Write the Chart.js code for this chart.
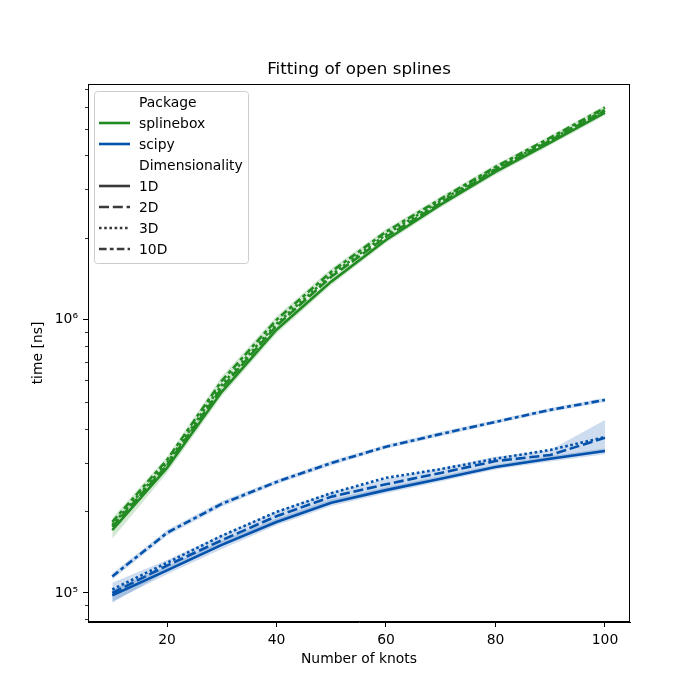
<!DOCTYPE html>
<html>
<head>
<meta charset="utf-8">
<script src="https://cdn.jsdelivr.net/npm/chart.js@4"></script>
<style>
    body { margin: 0; background: #fff; }
    #wrap { width: 700px; height: 700px; }
</style>
</head>
<body>
<div id="wrap"><canvas id="chart" width="700" height="700"></canvas></div>
<script>
// 数据
const knots = [10, 20, 30, 40, 50, 60, 70, 80, 90, 100];

const sb1D  = [1.70e5, 2.87e5, 5.45e5, 9.20e5, 1.38e6, 1.96e6, 2.64e6, 3.48e6, 4.45e6, 5.73e6];
const sb2D  = [1.745e5, 2.94e5, 5.63e5, 9.51e5, 1.437e6, 2.01e6, 2.68e6, 3.54e6, 4.53e6, 5.83e6];
const sb3D  = [1.775e5, 2.99e5, 5.78e5, 9.67e5, 1.46e6, 2.05e6, 2.73e6, 3.57e6, 4.56e6, 5.88e6];
const sb10D = [1.82e5, 3.07e5, 5.98e5, 1.00e6, 1.50e6, 2.10e6, 2.77e6, 3.63e6, 4.64e6, 5.98e6];

const sp1D  = [0.98e5, 1.21e5, 1.50e5, 1.82e5, 2.14e5, 2.38e5, 2.62e5, 2.89e5, 3.10e5, 3.31e5];
const sp2D  = [1.00e5, 1.26e5, 1.56e5, 1.91e5, 2.25e5, 2.50e5, 2.75e5, 3.04e5, 3.20e5, 3.70e5];
const sp3D  = [1.03e5, 1.29e5, 1.62e5, 1.98e5, 2.32e5, 2.64e5, 2.84e5, 3.10e5, 3.34e5, 3.72e5];
const sp10D = [1.15e5, 1.66e5, 2.12e5, 2.55e5, 2.99e5, 3.43e5, 3.82e5, 4.23e5, 4.68e5, 5.09e5];

// 置信区间
const sb1DLo  = [1.58e5, 2.75e5, 5.25e5, 8.90e5, 1.34e6, 1.91e6, 2.58e6, 3.40e6, 4.36e6, 5.60e6];
const sb1DHi  = [1.80e5, 2.98e5, 5.65e5, 9.50e5, 1.42e6, 2.01e6, 2.70e6, 3.56e6, 4.54e6, 5.86e6];
const sb10DLo = [1.74e5, 2.95e5, 5.60e5, 9.50e5, 1.45e6, 2.04e6, 2.71e6, 3.56e6, 4.56e6, 5.86e6];
const sb10DHi = [1.88e5, 3.15e5, 6.20e5, 1.03e6, 1.54e6, 2.15e6, 2.83e6, 3.70e6, 4.72e6, 6.10e6];
const sp1DLo  = [0.93e5, 1.17e5, 1.45e5, 1.77e5, 2.08e5, 2.32e5, 2.56e5, 2.83e5, 3.03e5, 3.22e5];
const sp1DHi  = [1.03e5, 1.25e5, 1.55e5, 1.87e5, 2.20e5, 2.44e5, 2.68e5, 2.95e5, 3.17e5, 3.38e5];
const sp2DLo  = [0.92e5, 1.20e5, 1.49e5, 1.83e5, 2.16e5, 2.40e5, 2.65e5, 2.93e5, 3.10e5, 3.28e5];
const sp2DHi  = [1.09e5, 1.32e5, 1.63e5, 1.99e5, 2.34e5, 2.62e5, 2.86e5, 3.15e5, 3.34e5, 4.30e5];
const sp10DLo = [1.12e5, 1.62e5, 2.07e5, 2.50e5, 2.93e5, 3.37e5, 3.75e5, 4.16e5, 4.60e5, 5.00e5];
const sp10DHi = [1.18e5, 1.70e5, 2.17e5, 2.60e5, 3.05e5, 3.49e5, 3.89e5, 4.30e5, 4.76e5, 5.18e5];

// 刻度
const xTicks = [20, 40, 60, 80, 100];
const yTicks = [1e5, 1e6];
const yMinorTicks = [8e4, 9e4, 2e5, 3e5, 4e5, 5e5, 6e5, 7e5, 8e5, 9e5, 2e6, 3e6, 4e6, 5e6, 6e6, 7e6];
const yLabels = { 100000: '10\u2075', 1000000: '10\u2076' };

const TITLE = 'Fitting of open splines';
const GREEN = '#228b22';
const BLUE = '#0452ab';
const DARK = '#3a3a3a';
const LW = 2.6;

const dashes = {
    '1D': [],
    '2D': [10, 3.8],
    '3D': [2.6, 2.6],
    '10D': [7.6, 3.2, 3.8, 3.2]
};

function lineSet(data, color, dim) {
    return {
        data: data,
        borderColor: color,
        borderWidth: LW,
        borderDash: dashes[dim],
        pointRadius: 0,
        tension: 0,
        fill: false
    };
}

function bandSets(lo, hi, fillColor, loIndex) {
    return [
        { data: lo, borderWidth: 0, pointRadius: 0, fill: false, borderColor: 'rgba(0,0,0,0)' },
        { data: hi, borderWidth: 0, pointRadius: 0, borderColor: 'rgba(0,0,0,0)',
          backgroundColor: fillColor, fill: { target: loIndex } }
    ];
}

const GFILL = 'rgba(34,139,34,0.2)';
const BFILL = 'rgba(4,82,171,0.2)';

const datasets = [
    lineSet(sb1D, GREEN, '1D'),
    lineSet(sb2D, GREEN, '2D'),
    lineSet(sb3D, GREEN, '3D'),
    lineSet(sb10D, GREEN, '10D'),
    lineSet(sp1D, BLUE, '1D'),
    lineSet(sp2D, BLUE, '2D'),
    lineSet(sp3D, BLUE, '3D'),
    lineSet(sp10D, BLUE, '10D')
];
// 区间放在后面，画在线的下面
[[sb1DLo, sb1DHi, GFILL], [sb10DLo, sb10DHi, GFILL], [sp1DLo, sp1DHi, BFILL],
 [sp2DLo, sp2DHi, BFILL], [sp10DLo, sp10DHi, BFILL]].forEach(b => {
    datasets.push(...bandSets(b[0], b[1], b[2], datasets.length));
});

// 标题 + 边框 + 次刻度 + 图例
const framePlugin = {
    id: 'frame',
    afterDraw(chart) {
        const ctx = chart.ctx;
        const a = chart.chartArea;
        const y = chart.scales.y;
        ctx.save();

        ctx.fillStyle = '#000';
        ctx.font = '16.7px "DejaVu Sans"';
        ctx.textAlign = 'center';
        ctx.textBaseline = 'middle';
        ctx.fillText(TITLE, (a.left + a.right) / 2, 70);
        ctx.textAlign = 'left';

        ctx.strokeStyle = '#000';
        ctx.lineWidth = 1;
        ctx.strokeRect(a.left + 0.5, a.top + 0.5, a.right - a.left - 1, a.bottom - a.top - 1);

        yMinorTicks.forEach(v => {
            const py = Math.round(y.getPixelForValue(v)) + 0.5;
            if (py < a.top || py > a.bottom) return;
            ctx.beginPath();
            ctx.moveTo(a.left - 3, py);
            ctx.lineTo(a.left, py);
            ctx.lineWidth = 0.8;
            ctx.stroke();
        });

        drawLegend(ctx);
        ctx.restore();
    }
};

function drawLegend(ctx) {
    ctx.fillStyle = 'rgba(255,255,255,0.8)';
    ctx.strokeStyle = '#cccccc';
    ctx.lineWidth = 1;
    ctx.beginPath();
    ctx.roundRect(94.5, 91.5, 154, 172, 3);
    ctx.fill();
    ctx.stroke();

    const rows = [
        { text: 'Package' },
        { text: 'splinebox', color: GREEN, dash: [] },
        { text: 'scipy', color: BLUE, dash: [] },
        { text: 'Dimensionality' },
        { text: '1D', color: DARK, dash: dashes['1D'] },
        { text: '2D', color: DARK, dash: dashes['2D'] },
        { text: '3D', color: DARK, dash: dashes['3D'] },
        { text: '10D', color: DARK, dash: dashes['10D'] }
    ];

    ctx.font = '13.9px "DejaVu Sans"';
    ctx.textBaseline = 'middle';
    rows.forEach((r, i) => {
        const yy = 102 + i * 21;
        if (r.color) {
            ctx.beginPath();
            ctx.setLineDash(r.dash);
            ctx.strokeStyle = r.color;
            ctx.lineWidth = LW;
            ctx.moveTo(99, yy);
            ctx.lineTo(130, yy);
            ctx.stroke();
            ctx.setLineDash([]);
        }
        ctx.fillStyle = '#000';
        ctx.fillText(r.text, 139, yy + 1);
    });
}

Chart.defaults.font.family = '"DejaVu Sans"';
Chart.defaults.color = '#000';

new Chart(document.getElementById('chart').getContext('2d'), {
    type: 'line',
    data: { labels: knots, datasets: datasets },
    plugins: [framePlugin],
    options: {
        responsive: false,
        devicePixelRatio: 1,
        animation: false,
        layout: { padding: { top: 84, right: 70, left: 0, bottom: 0 } },
        plugins: {
            legend: { display: false },
            tooltip: { enabled: false },
            title: { display: false },
            filler: { propagate: false }
        },
        scales: {
            x: {
                type: 'linear',
                min: 5.57,
                max: 104.57,
                afterBuildTicks: s => { s.ticks = xTicks.map(v => ({ value: v })); },
                afterFit: s => { s.height = 78; },
                ticks: { font: { size: 13.9 }, padding: 5, maxRotation: 0, autoSkip: false },
                grid: { drawOnChartArea: false, tickLength: 5, tickColor: '#000' },
                border: { color: '#000' },
                title: { display: true, text: 'Number of knots', font: { size: 13.9 }, padding: { top: 0, bottom: 32 } }
            },
            y: {
                type: 'logarithmic',
                min: 78300,
                max: 7.3e6,
                afterBuildTicks: s => { s.ticks = yTicks.map(v => ({ value: v, major: true })); },
                afterFit: s => { s.width = 88; },
                ticks: {
                    font: { size: 13.9 },
                    padding: 5,
                    autoSkip: false,
                    callback: v => yLabels[v] || ''
                },
                grid: { drawOnChartArea: false, tickLength: 5, tickColor: '#000' },
                border: { color: '#000' },
                title: { display: true, text: 'time [ns]', font: { size: 13.9 }, padding: { top: 30, bottom: 0 } }
            }
        }
    }
});
</script>
</body>
</html>
